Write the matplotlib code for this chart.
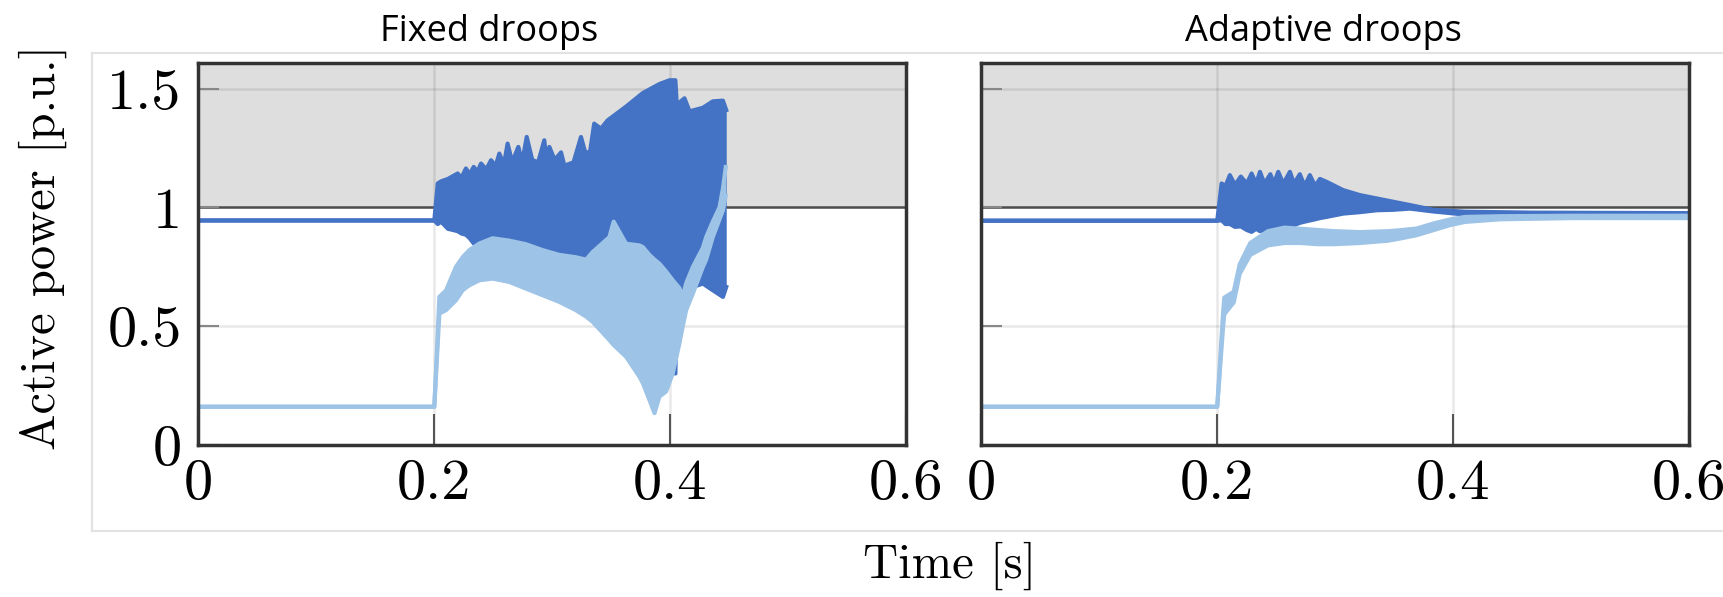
import matplotlib
matplotlib.use("Agg")
import matplotlib.pyplot as plt
from matplotlib.lines import Line2D

# ---- data (envelopes of the oscillating signals) ----
# Fixed droops, converter 1 (dark blue)
t_fix_dark = [0.0, 0.2, 0.2029, 0.2058, 0.2115, 0.2198, 0.2230, 0.2268, 0.2300, 0.2334,
              0.2365, 0.2396, 0.2440, 0.2481, 0.2520, 0.2551, 0.2590, 0.2621, 0.2660, 0.2712,
              0.2745, 0.2783, 0.2830, 0.2880, 0.2932, 0.2950, 0.2975, 0.3020, 0.3074, 0.3102,
              0.3180, 0.3243, 0.3280, 0.3320, 0.3355, 0.3412, 0.3469, 0.3625, 0.3767, 0.3908,
              0.3993, 0.4043, 0.4055, 0.412, 0.4163, 0.4276, 0.436, 0.4446, 0.4474]
fix_dark_hi = [0.945, 0.945, 1.101, 1.11, 1.12, 1.143, 1.125, 1.164, 1.14, 1.171,
               1.15, 1.185, 1.16, 1.199, 1.175, 1.227, 1.18, 1.269, 1.19, 1.255,
               1.19, 1.297, 1.20, 1.19, 1.283, 1.20, 1.255, 1.20, 1.232, 1.176,
               1.19, 1.297, 1.23, 1.235, 1.353, 1.332, 1.367, 1.425, 1.482, 1.52,
               1.536, 1.536, 1.433, 1.46, 1.405, 1.42, 1.447, 1.45, 1.41]
fix_dark_lo = [0.945, 0.945, 0.93, 0.94, 0.91, 0.90, 0.89, 0.885, 0.87, 0.848,
               0.86, 0.865, 0.855, 0.85, 0.848, 0.845, 0.84, 0.838, 0.836, 0.83,
               0.828, 0.822, 0.82, 0.81, 0.80, 0.795, 0.792, 0.785, 0.78, 0.778,
               0.78, 0.785, 0.79, 0.80, 0.80, 0.80, 0.80, 0.79, 0.77, 0.749,
               0.32, 0.30, 0.60, 0.62, 0.66, 0.679, 0.651, 0.623, 0.665]

# Fixed droops, converter 2 (light blue)
t_fix_light = [0.0, 0.2, 0.2043, 0.2099, 0.2184, 0.224, 0.2297, 0.2382, 0.2494, 0.2635,
               0.2776, 0.2918, 0.3059, 0.32, 0.3286, 0.3342, 0.3484, 0.352, 0.3625, 0.3738,
               0.3767, 0.3823, 0.3866, 0.3908, 0.3964, 0.4021, 0.4077, 0.4106, 0.4134, 0.4191,
               0.4276, 0.4304, 0.436, 0.4417, 0.4446, 0.447]
fix_light_hi = [0.16, 0.16, 0.623, 0.65, 0.75, 0.79, 0.82, 0.848, 0.87, 0.86,
                0.845, 0.82, 0.80, 0.79, 0.78, 0.812, 0.875, 0.94, 0.847, 0.84,
                0.833, 0.80, 0.78, 0.763, 0.73, 0.693, 0.66, 0.623, 0.68, 0.749,
                0.83, 0.875, 0.94, 1.0, 1.08, 1.17]
fix_light_lo = [0.16, 0.16, 0.553, 0.567, 0.609, 0.651, 0.672, 0.693, 0.70, 0.686,
                0.658, 0.63, 0.602, 0.567, 0.54, 0.518, 0.441, 0.42, 0.371, 0.287,
                0.26, 0.189, 0.133, 0.203, 0.224, 0.301, 0.427, 0.50, 0.567, 0.637,
                0.749, 0.78, 0.875, 0.95, 0.988, 1.05]

# Adaptive droops, converter 1 (dark blue)
t_ada_dark = [0.0, 0.2, 0.2037, 0.2070, 0.2107, 0.2150, 0.2200, 0.2250, 0.2291, 0.2330,
              0.2362, 0.2400, 0.2450, 0.2480, 0.2517, 0.2560, 0.2616, 0.2650, 0.2700, 0.2740,
              0.2785, 0.2830, 0.2870, 0.2926, 0.3067, 0.3208, 0.335, 0.349, 0.3633, 0.383,
              0.41, 0.467, 0.6]
ada_dark_hi = [0.944, 0.944, 1.101, 1.09, 1.136, 1.095, 1.13, 1.10, 1.143, 1.10,
               1.15, 1.10, 1.14, 1.10, 1.15, 1.10, 1.15, 1.10, 1.14, 1.09,
               1.136, 1.09, 1.12, 1.108, 1.073, 1.052, 1.038, 1.024, 1.01, 0.99,
               0.982, 0.978, 0.976]
ada_dark_lo = [0.944, 0.944, 0.946, 0.93, 0.93, 0.918, 0.92, 0.905, 0.897, 0.91,
               0.90, 0.905, 0.91, 0.905, 0.91, 0.92, 0.93, 0.925, 0.935, 0.94,
               0.945, 0.95, 0.955, 0.96, 0.974, 0.98, 0.988, 0.99, 0.995, 0.983,
               0.97, 0.968, 0.968]

# Adaptive droops, converter 2 (light blue)
t_ada_light = [0.0, 0.2, 0.205, 0.206, 0.214, 0.219, 0.228, 0.243, 0.257, 0.271,
               0.285, 0.299, 0.3208, 0.345, 0.355, 0.369, 0.383, 0.397, 0.41, 0.44,
               0.5, 0.6]
ada_light_hi = [0.16, 0.16, 0.56, 0.62, 0.645, 0.76, 0.85, 0.90, 0.915, 0.91,
                0.905, 0.90, 0.896, 0.90, 0.904, 0.911, 0.932, 0.949, 0.96, 0.963,
                0.965, 0.965]
ada_light_lo = [0.16, 0.16, 0.50, 0.55, 0.60, 0.72, 0.80, 0.84, 0.85, 0.85,
                0.845, 0.845, 0.85, 0.86, 0.869, 0.883, 0.904, 0.925, 0.939, 0.95,
                0.955, 0.955]

titles = ["Fixed droops", "Adaptive droops"]
xticks = [0, 0.2, 0.4, 0.6]
xticklabels = ["0", "0.2", "0.4", "0.6"]
yticks = [0, 0.5, 1, 1.5]
yticklabels = ["0", "0.5", "1", "1.5"]

dark = "#4472C4"
light = "#9DC3E6"
serif = "cmr10"

fig = plt.figure(figsize=(17.23, 5.97), dpi=100)
ax1 = fig.add_axes([0.1151, 0.2551, 0.4109, 0.6399])
ax2 = fig.add_axes([0.5695, 0.2551, 0.4109, 0.6399])

panels = [
    (ax1, t_fix_dark, fix_dark_hi, fix_dark_lo, t_fix_light, fix_light_hi, fix_light_lo),
    (ax2, t_ada_dark, ada_dark_hi, ada_dark_lo, t_ada_light, ada_light_hi, ada_light_lo),
]

for i, (ax, td, dh, dl, tl, lh, ll) in enumerate(panels):
    ax.axhspan(1.0, 1.7, color="#DEDEDE", zorder=0, lw=0)
    ax.grid(True, color="black", alpha=0.09, lw=1.8, zorder=0.5)
    ax.axhline(1.0, color="#555555", lw=1.8, zorder=1)
    ax.fill_between(td, dl, dh, color=dark, lw=0, zorder=2)
    ax.plot(td, dh, color=dark, lw=3, zorder=2)
    ax.plot(td, dl, color=dark, lw=3, zorder=2)
    ax.fill_between(tl, ll, lh, color=light, lw=0, zorder=3)
    ax.plot(tl, lh, color=light, lw=3, zorder=3)
    ax.plot(tl, ll, color=light, lw=3, zorder=3)

    ax.set_xlim(0, 0.6)
    ax.set_ylim(0, 1.61)
    ax.set_xticks(xticks)
    ax.set_yticks(yticks)
    ax.set_xticklabels(xticklabels, fontfamily=serif, fontsize=42)
    if i == 0:
        ax.set_yticklabels(yticklabels, fontfamily=serif, fontsize=42)
    else:
        ax.set_yticklabels([])
    ax.tick_params(axis="x", direction="in", length=22, width=1.5, color="#555555", pad=10)
    ax.tick_params(axis="y", direction="in", length=15, width=1.5, color="#888888", pad=12)
    for s in ax.spines.values():
        s.set_color("#333333")
        s.set_linewidth(2.5)
        s.set_zorder(5)

fig.text(0.284, 0.947, titles[0], ha="center", va="center", fontsize=26, family="Open Sans")
fig.text(0.768, 0.947, titles[1], ha="center", va="center", fontsize=26, family="Open Sans")
fig.text(0.025, 0.585, "Active power [p.u.]", rotation=90, ha="center", va="center",
         fontsize=35, family=serif)
fig.text(0.551, 0.052, "Time [s]", ha="center", va="center", fontsize=35, family=serif)

# faint frame of the original screenshot
fc = "#E2E2E2"
fig.add_artist(Line2D([0.0532, 1.0], [0.9117, 0.9117], color=fc, lw=1.5, transform=fig.transFigure))
fig.add_artist(Line2D([0.0532, 1.0], [0.111, 0.111], color=fc, lw=1.5, transform=fig.transFigure))
fig.add_artist(Line2D([0.0532, 0.0532], [0.111, 0.9117], color=fc, lw=1.5, transform=fig.transFigure))

fig.savefig("out.png", dpi=100)
